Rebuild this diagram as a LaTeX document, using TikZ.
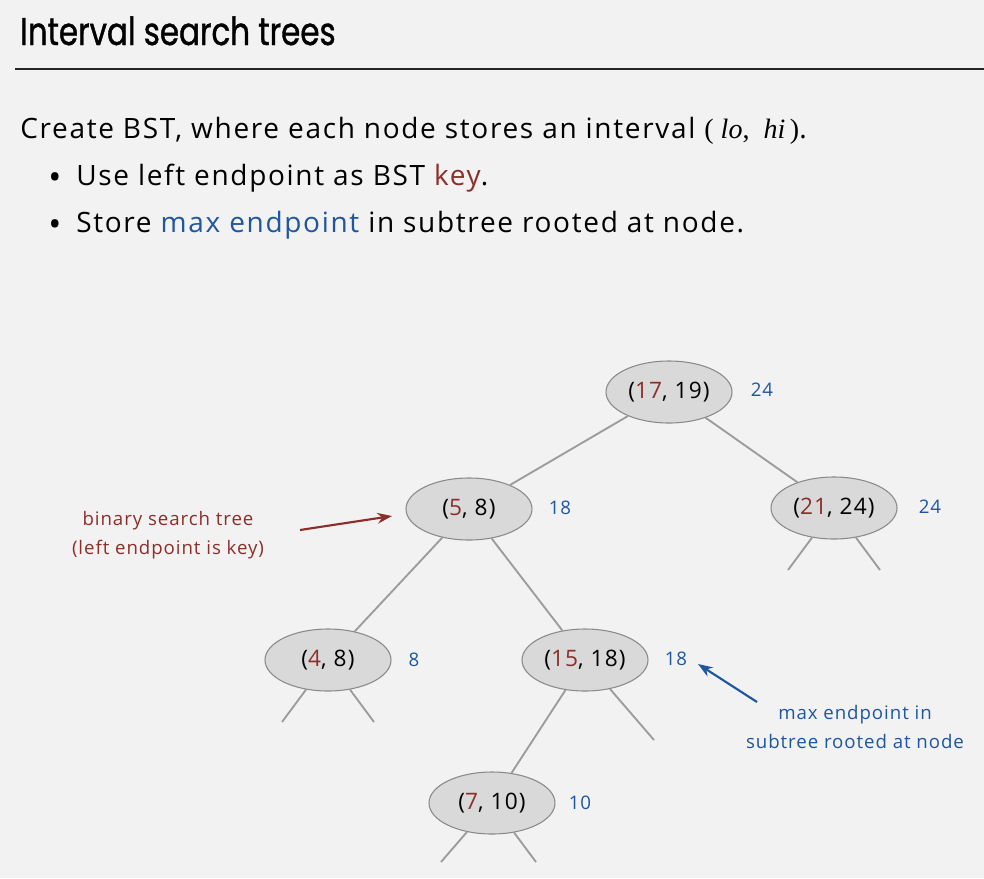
\documentclass[tikz,border=0pt]{standalone}
\usepackage{fontspec}
\usetikzlibrary{shapes.geometric,arrows.meta}
\setmainfont{Open Sans}[LetterSpace=5]
\newfontfamily\bodyfont{Open Sans}[LetterSpace=6]
\newfontfamily\titlefont[FakeStretch=0.8,FakeBold=1]{Poppins}
\newfontfamily\serifit{Liberation Serif}
\definecolor{keyred}{HTML}{8E2E2A}
\definecolor{maxblue}{HTML}{1E56A0}
\definecolor{bgcol}{HTML}{F2F2F2}
\definecolor{nodefill}{HTML}{D9D9D9}
\definecolor{nodeborder}{HTML}{8A8A8A}
\definecolor{edgegray}{HTML}{9C9C9C}
\tikzset{
  treenode/.style={ellipse, draw=nodeborder, line width=0.8pt, fill=nodefill,
    minimum width=94.5pt, minimum height=46.5pt, inner sep=0pt,
    font=\fontsize{17}{19}\selectfont},
  maxlab/.style={text=maxblue, font=\fontsize{14}{17}\selectfont, inner sep=0pt},
  edge/.style={draw=edgegray, line width=1.4pt},
  bodytext/.style={anchor=base west, inner sep=0pt, font=\bodyfont\fontsize{21}{25}\selectfont},
  note/.style={align=center, inner sep=0pt, font=\fontsize{14}{22}\selectfont},
}
\newcommand{\kk}[1]{\textcolor{keyred}{#1}}
\newcommand{\bul}{\makebox[21pt][l]{\raisebox{-3pt}{\fontsize{26}{26}\selectfont•}}}
\begin{document}
\begin{tikzpicture}[x=0.75pt,y=-0.75pt]
\fill[bgcol] (0,0) rectangle (984,878);
\useasboundingbox (0,0) rectangle (984,878);

% title
\node[anchor=base west, inner sep=0pt, font=\titlefont\fontsize{29}{34}\selectfont] (title) at (20,45) {Interval search trees};
\draw[line width=1.4pt, black!85] (15,69) -- (984,69);

% body text
\node[bodytext] (intro) at (20,138) {Create BST, where each node stores an interval {\serifit( \textit{lo},\ \ \textit{hi}\,)}.};
\node[bodytext] (b1) at (48,185) {\bul Use left endpoint as BST \kk{key}.};
\node[bodytext] (b2) at (48,232) {\bul Store \textcolor{maxblue}{max endpoint} in subtree rooted at node.};

% tree nodes
\node[treenode] (n1719) at (669,392) {(\kk{17}, 19)};
\node[treenode] (n58)   at (469,509) {(\kk{5}, 8)};
\node[treenode] (n2124) at (834,508) {(\kk{21}, 24)};
\node[treenode] (n48)   at (328,660) {(\kk{4}, 8)};
\node[treenode] (n1518) at (585,660) {(\kk{15}, 18)};
\node[treenode] (n710)  at (492,803) {(\kk{7}, 10)};

% max labels
\node[maxlab] (m1719) at (762,390) {24};
\node[maxlab] (m58)   at (560,508) {18};
\node[maxlab] (m2124) at (930,507) {24};
\node[maxlab] (m48)   at (414,660) {8};
\node[maxlab] (m1518) at (676,659) {18};
\node[maxlab] (m710)  at (580,803) {10};

% stub ends
\coordinate (s1) at (788,570);
\coordinate (s2) at (880,570);
\coordinate (s3) at (282,722);
\coordinate (s4) at (374,722);
\coordinate (s5) at (654,740);
\coordinate (s6) at (441,862);
\coordinate (s7) at (536,862);

% edges
\draw[edge] (n1719) -- (n58);
\draw[edge] (n1719) -- (n2124);
\draw[edge] (n58) -- (n48);
\draw[edge] (n58) -- (n1518);
\draw[edge] (n1518) -- (n710);
\draw[edge] (n2124) -- (s1);
\draw[edge] (n2124) -- (s2);
\draw[edge] (n48) -- (s3);
\draw[edge] (n48) -- (s4);
\draw[edge] (n1518) -- (s5);
\draw[edge] (n710) -- (s6);
\draw[edge] (n710) -- (s7);

% annotations
\node[note, text=keyred] (bstnote) at (168,535) {binary search tree\\(left endpoint is key)};
\node[note, text=maxblue] (maxnote) at (855,727) {max endpoint in\\subtree rooted at node};
\coordinate (ra) at (300,530);
\coordinate (rb) at (392,516);
\coordinate (ba) at (757,702);
\coordinate (bb) at (698,664);
\draw[keyred, line width=1.6pt, -{Stealth[length=11pt,width=8pt]}] (ra) -- (rb);
\draw[maxblue, line width=1.6pt, -{Stealth[length=11pt,width=8pt]}] (ba) -- (bb);
\end{tikzpicture}
\end{document}
